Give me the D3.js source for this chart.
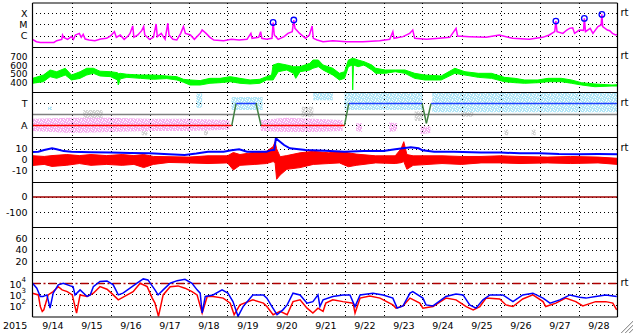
<!DOCTYPE html>
<html>
<head>
<meta charset="utf-8">
<script src="https://cdn.jsdelivr.net/npm/d3@7"></script>
<style>
  body { margin: 0; background: #fff; }
  svg { display: block; font-family: 'DejaVu Sans', 'Liberation Sans', Arial, sans-serif; }
</style>
</head>
<body>
<div id="chart"></div>
<script>
const width = 633
const height = 334
const plotLeft = 32.5
const plotRight = 617.5

// panel edges, top to bottom
const edges = [3, 47.5, 92.5, 137.5, 182.5, 227.5, 272.5, 317]

// time axis in days since 2015-09-14 00:00
const dayStarts = d3.range(0, 15)
const dayLabels = ['9/14', '9/15', '9/16', '9/17', '9/18', '9/19', '9/20', '9/21', '9/22', '9/23', '9/24', '9/25', '9/26', '9/27', '9/28']

// x-ray flux [day, W/m2]
const xrayFlux = [
  [0, 4.7e-7], [0.1, 2.9e-7], [0.2, 2.5e-7], [0.4, 2.4e-7], [0.55, 2.5e-7], [0.62, 3.6e-7], [0.75, 4.7e-7], [0.77, 1.15e-6],
  [0.8, 7.1e-7], [0.9, 4.7e-7], [1.0, 8.2e-7], [1.05, 4.7e-7], [1.1, 1.15e-6], [1.2, 1.6e-6], [1.25, 7.1e-7], [1.3, 1.3e-6],
  [1.35, 5.0e-7], [1.45, 4.1e-7], [1.6, 3.6e-7], [1.75, 5.0e-7], [1.9, 5.8e-7], [2.0, 9.4e-7], [2.1, 2.3e-6], [2.15, 7.1e-7],
  [2.25, 1.15e-6], [2.35, 4.7e-7], [2.45, 9.4e-7], [2.5, 1.6e-6], [2.57, 7.4e-6], [2.6, 7.1e-7], [2.7, 1.15e-6], [2.8, 2.8e-6],
  [2.85, 6.4e-6], [2.88, 1.15e-6], [3.0, 4.7e-7], [3.1, 7.1e-7], [3.17, 1.1e-5], [3.2, 8.2e-7], [3.3, 1.6e-6], [3.4, 4.7e-7],
  [3.47, 1.3e-5], [3.5, 1.15e-6], [3.6, 4.7e-7], [3.7, 4.1e-7], [3.8, 1.6e-6], [3.87, 6.4e-6], [3.92, 1.6e-6], [4.05, 1.15e-6],
  [4.15, 4.7e-7], [4.3, 1.6e-6], [4.35, 3.2e-6], [4.45, 1.6e-6], [4.55, 7.1e-7], [4.65, 4.1e-7], [4.9, 3.6e-7], [5.1, 4.7e-7],
  [5.3, 4.1e-7], [5.5, 4.7e-7], [5.6, 1.6e-6], [5.63, 5.8e-7], [5.8, 7.1e-7], [5.85, 2.3e-6], [5.88, 5.8e-7], [6.0, 4.7e-7],
  [6.14, 5.8e-7], [6.17, 1.45e-5], [6.2, 1.15e-6], [6.3, 4.7e-7], [6.45, 8.2e-7], [6.55, 1.6e-6], [6.66, 2.3e-6], [6.7, 2.5e-5],
  [6.73, 4.5e-6], [6.85, 1.6e-6], [7.0, 5.8e-7], [7.1, 1.15e-6], [7.17, 7.4e-6], [7.2, 5.8e-7], [7.3, 4.1e-7], [7.45, 2.9e-7],
  [7.7, 3.6e-7], [8.05, 2.9e-7], [8.47, 2.9e-7], [8.9, 3.6e-7], [9.16, 4.7e-7], [9.24, 2.3e-6], [9.27, 5.8e-7], [9.5, 8.2e-7],
  [9.67, 1.6e-6], [9.75, 3.2e-6], [9.8, 5.8e-7], [10.1, 4.7e-7], [10.43, 5.8e-7], [10.7, 7.1e-7], [10.86, 4.5e-6], [10.9, 9.4e-7],
  [11.2, 8.2e-7], [11.63, 7.1e-7], [11.97, 1.15e-6], [12.31, 5.8e-7], [12.74, 4.7e-7], [13.08, 7.1e-7], [13.25, 1.15e-6], [13.39, 2.3e-6],
  [13.42, 2.0e-5], [13.45, 2.3e-6], [13.6, 1.6e-6], [13.7, 3.2e-6], [13.77, 4.5e-6], [13.85, 5.0e-6], [13.9, 1.6e-6], [14.02, 3.2e-6],
  [14.13, 3.0e-6], [14.15, 3.5e-5], [14.18, 2.3e-6], [14.3, 4.5e-6], [14.37, 1.6e-6], [14.5, 6.4e-6], [14.58, 9.0e-6], [14.6, 8.0e-5],
  [14.62, 6.4e-6], [14.74, 3.2e-6], [14.8, 2.8e-6], [14.87, 1.6e-6], [14.95, 1.15e-6], [15, 1.3e-6]
]
const flarePeaks = [[6.17, 1.5e-5], [6.7, 2.5e-5], [13.42, 2.0e-5], [14.15, 3.5e-5], [14.6, 8.0e-5]]

// solar wind speed band [day, low, high] km/s
const windSpeed = [
  [0, 388, 446], [0.28, 407, 485], [0.45, 466, 544], [0.62, 446, 524], [0.84, 485, 564], [1.0, 427, 485], [1.22, 446, 524],
  [1.39, 485, 564], [1.56, 505, 564], [1.73, 474, 530], [2.0, 466, 524], [2.18, 427, 513], [2.2, 368, 500], [2.25, 440, 505],
  [2.42, 458, 494], [2.77, 446, 485], [3.1, 435, 485], [3.44, 443, 474], [3.7, 427, 466], [3.87, 400, 435], [4.04, 368, 427],
  [4.3, 368, 420], [4.55, 388, 446], [4.81, 395, 446], [5.07, 407, 466], [5.32, 388, 446], [5.58, 380, 427], [5.83, 388, 435],
  [6.0, 427, 466], [6.13, 427, 485], [6.17, 427, 603], [6.3, 524, 622], [6.52, 544, 603], [6.69, 505, 583], [6.75, 446, 583],
  [6.86, 524, 583], [7.11, 544, 622], [7.19, 564, 661], [7.33, 583, 661], [7.45, 544, 603], [7.7, 485, 564], [7.87, 427, 505],
  [8.0, 446, 524], [8.1, 583, 661], [8.2, 603, 680], [8.21, 310, 680], [8.23, 603, 680], [8.35, 583, 661], [8.5, 603, 642],
  [8.7, 544, 603], [8.8, 505, 564], [9.05, 505, 544], [9.3, 524, 544], [9.55, 505, 544], [9.8, 446, 505], [10.06, 427, 485],
  [10.48, 427, 474], [10.83, 505, 564], [11.09, 485, 524], [11.43, 458, 505], [11.77, 446, 505], [12.1, 407, 458], [12.37, 395, 446],
  [12.62, 388, 427], [12.96, 395, 427], [13.22, 407, 446], [13.56, 407, 446], [13.82, 388, 427], [14.08, 368, 395], [14.42, 348, 380],
  [14.86, 356, 368], [15, 356, 372]
]

// IMF direction scatter bands [day, low, high] (A = -1, T = +1), null = gap
const phiAway = [
  [0, -1.5, -0.4], [1, -1.7, -0.3], [2, -1.6, -0.3], [3, -1.5, -0.4], [4, -1.5, -0.4], [5.05, -1.4, -0.5], [5.06, null, null],
  [5.85, -1.5, -0.5], [6.5, -1.6, -0.3], [7.2, -1.6, -0.4], [7.95, -1.5, -0.5], [7.96, null, null],
  [8.3, -1.5, -0.8], [8.45, -1.6, -0.8], [8.46, null, null], [9.15, -1.6, -0.7], [9.35, -1.5, -0.8], [9.36, null, null],
  [9.95, -1.8, -1.1], [10.2, -1.7, -1.1]
]
const phiToward = [
  [0.4, 0.4, 0.7], [0.5, 0.4, 0.7], [0.51, null, null], [4.2, 0.6, 1.9], [4.35, 0.6, 1.9], [4.36, null, null],
  [5.1, 0.4, 1.6], [5.9, 0.4, 1.6], [5.91, null, null], [7.2, 1.3, 2.0], [7.7, 1.3, 2.0], [7.71, null, null],
  [8.0, 0.4, 2.0], [10.0, 0.4, 2.0], [10.01, null, null], [10.25, 0.2, 2.0], [15, 0.2, 2.0]
]
const phiOther = [
  [1.3, -0.8, 0.4], [1.8, -0.8, 0.4], [1.81, null, null], [2.8, -1.9, -1.4], [2.95, -1.9, -1.4], [2.96, null, null],
  [4.4, -1.9, -1.4], [4.5, -1.9, -1.4], [4.51, null, null], [6.9, -0.2, 0.7], [7.2, -0.2, 0.7], [7.21, null, null],
  [9.8, -0.6, 0.3], [10.0, -0.6, 0.3], [10.01, null, null], [11.0, -0.2, 0.4], [11.3, -0.2, 0.4], [11.31, null, null],
  [12.1, -1.9, -1.4], [12.2, -1.9, -1.4], [12.21, null, null], [12.8, -1.9, -1.4], [12.9, -1.9, -1.4]
]
// sector polarity
const sector = [[0, -1], [5.11, -1], [5.22, 1], [5.73, 1], [5.86, -1], [8.0, -1], [8.11, 1], [9.99, 1], [10.1, -0.82], [10.22, 1], [15, 1]]

// IMF magnitude (nT)
const imfBt = [
  [0, 7.0], [0.15, 7.3], [0.3, 8.9], [0.5, 10.4], [0.62, 9.5], [0.8, 7.8], [1.0, 7.3], [1.5, 6.8], [2.0, 6.4], [2.5, 6.0],
  [3.0, 5.8], [3.5, 4.8], [3.9, 4.2], [4.2, 5.5], [4.5, 7.3], [4.9, 7.3], [5.1, 8.5], [5.3, 9.5], [5.5, 7.3], [6.0, 7.3],
  [6.1, 8.5], [6.2, 9.0], [6.24, 19.8], [6.3, 18.0], [6.45, 13.5], [6.6, 10.4], [7.0, 8.9], [7.5, 8.2], [8.0, 7.3], [8.5, 7.8],
  [9.0, 7.8], [9.3, 9.5], [9.5, 10.4], [9.7, 11.4], [9.9, 10.4], [10.0, 8.5], [10.3, 7.3], [10.8, 7.3], [11.5, 6.4], [12, 6.4],
  [12.5, 5.8], [13, 5.8], [13.5, 5.0], [14, 4.8], [14.5, 5.0], [15, 4.8]
]
// IMF Bz band [day, low, high] (nT)
const imfBz = [
  [0, -5.6, 3.5], [0.3, -4.6, 2.8], [0.5, -6.5, 3.6], [0.88, -5.4, 4.6], [1.2, -3.8, 3.6], [1.5, -5.5, 4.6], [1.9, -4.6, 3.6],
  [2.3, -5.5, 4.6], [2.6, -4.6, 3.6], [2.85, -7.6, 4.6], [3.1, -4.6, 2.8], [3.5, -2.8, 2.6], [4.0, -3.2, 2.2], [4.5, -3.8, 3.4],
  [5.0, -3.2, 3.4], [5.15, -9.8, 6.5], [5.32, -5.5, 4.6], [5.7, -4.6, 6.8], [6.0, -3.8, 7.6], [6.17, -2.0, 12.0], [6.22, -3.0, 16.6],
  [6.26, -18.5, 10.0], [6.35, -14.5, 2.6], [6.52, -9.2, 3.6], [6.86, -7.6, 6.2], [7.2, -4.6, 7.6], [7.6, -3.8, 6.2], [7.87, -3.2, 7.6],
  [8.1, -6.8, 6.2], [8.3, -5.5, 5.0], [8.8, -3.2, 3.4], [9.3, -3.8, 3.4], [9.45, -3.0, 10.0], [9.52, -2.0, 16.6], [9.6, -9.2, 4.6],
  [9.76, -5.5, 3.4], [10.5, -3.8, 3.4], [11.0, -4.6, 2.8], [11.5, -3.2, 2.8], [12.0, -3.2, 3.4], [12.5, -3.8, 2.8], [13.2, -3.2, 2.2],
  [13.8, -3.8, 2.8], [14.5, -3.2, 2.2], [15, -4.6, 1.1]
]

// electron flux
const electronBlue = [
  [0, 10500], [0.11, 3700], [0.2, 650], [0.27, 650], [0.37, 900], [0.45, 56], [0.53, 1300], [0.66, 7400], [0.79, 10500],
  [0.97, 6000], [1.04, 5100], [1.09, 900], [1.22, 2600], [1.4, 650], [1.48, 900], [1.56, 5100], [1.73, 15000], [1.91, 17000],
  [2.07, 7400], [2.2, 900], [2.32, 1300], [2.5, 3700], [2.68, 10500], [2.84, 26000], [2.96, 21000], [3.14, 2600], [3.22, 900],
  [3.35, 2600], [3.53, 10500], [3.71, 18000], [3.91, 24000], [4.09, 10500], [4.22, 2600], [4.3, 1300], [4.35, 20], [4.43, 650],
  [4.63, 900], [4.86, 2600], [5.01, 1300], [5.14, 220], [5.27, 10], [5.4, 78], [5.65, 900], [5.92, 900], [6.01, 460], [6.14, 78],
  [6.27, 14], [6.42, 39], [6.53, 110], [6.68, 1300], [6.86, 900], [7.04, 160], [7.19, 220], [7.32, 900], [7.37, 78], [7.45, 320],
  [7.7, 650], [7.96, 900], [8.14, 900], [8.27, 78], [8.4, 900], [8.73, 1300], [8.99, 900], [9.24, 460], [9.35, 56], [9.5, 90],
  [9.68, 1300], [9.75, 1800], [10.01, 460], [10.09, 110], [10.27, 90], [10.6, 650], [10.86, 1100], [11.04, 900], [11.21, 110],
  [11.37, 56], [11.55, 320], [11.73, 900], [12.06, 900], [12.32, 220], [12.57, 900], [12.83, 1300], [13.09, 460], [13.27, 160],
  [13.52, 320], [13.78, 900], [14.03, 560], [14.19, 460], [14.44, 650], [14.7, 900], [14.98, 650]
]
const electronRed = [
  [0, 1300], [0.15, 900], [0.2, 78], [0.25, 28], [0.29, 39], [0.4, 900], [0.53, 1800], [0.66, 5100], [0.76, 2600], [0.89, 1800],
  [1.02, 900], [1.09, 78], [1.13, 20], [1.22, 900], [1.4, 650], [1.56, 1300], [1.73, 5100], [1.91, 3000], [2.07, 900], [2.2, 320],
  [2.43, 900], [2.58, 1800], [2.76, 10500], [2.94, 5100], [3.07, 460], [3.14, 160], [3.23, 10], [3.35, 900], [3.53, 5100],
  [3.73, 6000], [3.91, 3700], [4.09, 1800], [4.22, 900], [4.35, 20], [4.48, 650], [4.63, 650], [4.89, 460], [5.07, 160], [5.17, 14],
  [5.32, 110], [5.65, 320], [5.92, 160], [6.01, 78], [6.17, 14], [6.35, 28], [6.53, 14], [6.68, 220], [6.86, 320], [7.04, 56],
  [7.19, 20], [7.32, 56], [7.45, 28], [7.52, 160], [7.7, 320], [7.96, 220], [8.22, 160], [8.27, 20], [8.4, 460], [8.65, 700],
  [8.91, 460], [9.24, 110], [9.32, 56], [9.5, 90], [9.68, 460], [9.93, 160], [10.01, 56], [10.27, 78], [10.6, 460], [10.86, 320],
  [11.12, 78], [11.3, 39], [11.47, 78], [11.63, 460], [11.98, 380], [12.14, 110], [12.32, 78], [12.57, 380], [12.83, 900],
  [13.09, 220], [13.16, 78], [13.42, 160], [13.67, 460], [13.93, 220], [14.11, 90], [14.44, 220], [14.7, 220], [14.88, 160], [14.98, 39]
]

// tick labels
const xrayTicks = [['C', 1e-6], ['M', 1e-5], ['X', 1e-4]]
const speedTicks = [400, 500, 600, 700]
const phiTicks = [['A', -1], ['T', 1]]
const bTicks = [-10, 0, 10]
const dstTicks = [-100, 0]
const p6Ticks = [20, 40, 60]
const elecTicks = [2, 3, 4]

// scales
const x = d3.scaleLinear().domain([0, 15]).range([plotLeft, plotRight])
const yXray = d3.scaleLog().domain([8.8e-8, 8.3e-4]).range([edges[1], edges[0]])
const ySpeed = d3.scaleLinear().domain([280, 808]).range([edges[2], edges[1]])
const yPhi = d3.scaleLinear().domain([-2.1, 2]).range([edges[3], edges[2]])
const yB = d3.scaleLinear().domain([-21.5, 20.5]).range([edges[4], edges[3]])
const yDst = d3.scaleLinear().domain([-200, 95]).range([edges[5], edges[4]])
const yP6 = d3.scaleLinear().domain([0, 79]).range([edges[6], edges[5]])
const yElec = d3.scaleLog().domain([8.7, 1e5]).range([edges[7], edges[6]])

const svg = d3.select('#chart').append('svg')
  .attr('width', width)
  .attr('height', height)

svg.append('rect').attr('width', width).attr('height', height).attr('fill', '#fff')

const defs = svg.append('defs')
edges.slice(0, -1).forEach((top, i) => {
  defs.append('clipPath').attr('id', 'clip' + i)
    .append('rect')
    .attr('x', plotLeft).attr('y', top)
    .attr('width', plotRight - plotLeft).attr('height', edges[i + 1] - top)
})

// speckled fills to look like scattered dots: colour with a few white holes
function speckle(id, color) {
  const p = defs.append('pattern')
    .attr('id', id)
    .attr('patternUnits', 'userSpaceOnUse')
    .attr('width', 7).attr('height', 5)
  p.append('rect').attr('width', 7).attr('height', 5).attr('fill', color)
  const holes = [[1, 0], [4, 0], [3, 1], [6, 1], [0, 2], [5, 2], [2, 3], [4, 4], [0, 4]]
  holes.forEach(d => {
    p.append('rect').attr('x', d[0]).attr('y', d[1]).attr('width', 1).attr('height', 1).attr('fill', '#fff')
  })
}
speckle('pinkDots', '#f6b2f0')
speckle('blueDots', '#b2e6f7')
speckle('grayDots', '#d4d4d4')

function panel(i) {
  return svg.append('g').attr('clip-path', `url(#clip${i})`)
}

// dotted grid
const grid = svg.append('g')
  .attr('stroke', '#000')
  .attr('stroke-dasharray', '1,3')
  .attr('shape-rendering', 'crispEdges')

dayStarts.slice(1).forEach(d => {
  grid.append('line')
    .attr('x1', Math.round(x(d)) + 0.5).attr('x2', Math.round(x(d)) + 0.5)
    .attr('y1', edges[0]).attr('y2', edges[7])
})

function hgrid(y) {
  const yy = Math.round(y) + 0.5
  grid.append('line').attr('x1', plotLeft + 3).attr('x2', plotRight).attr('y1', yy).attr('y2', yy)
}

// panel 3 scatter goes under the grid
const p3 = svg.append('g').attr('clip-path', 'url(#clip2)')
const band = sc => d3.area()
  .defined(d => d[1] !== null)
  .x(d => x(d[0])).y0(d => sc(d[1])).y1(d => sc(d[2]))
p3.append('path').datum(phiOther).attr('fill', 'url(#grayDots)').attr('d', band(yPhi))
p3.append('path').datum(phiAway).attr('fill', 'url(#pinkDots)').attr('d', band(yPhi))
p3.append('path').datum(phiToward).attr('fill', 'url(#blueDots)').attr('d', band(yPhi))
grid.raise()

xrayTicks.forEach(d => hgrid(yXray(d[1])))
speedTicks.forEach(d => hgrid(ySpeed(d)))
phiTicks.forEach(d => hgrid(yPhi(d[1])))
bTicks.forEach(d => hgrid(yB(d)))
dstTicks.forEach(d => hgrid(yDst(d)))
p6Ticks.forEach(d => hgrid(yP6(d)))
elecTicks.forEach(d => hgrid(yElec(Math.pow(10, d))))

// panel 1: x-ray
const p1 = panel(0)
p1.append('path')
  .datum(xrayFlux)
  .attr('fill', 'none')
  .attr('stroke', '#ff00ff')
  .attr('stroke-width', 1.5)
  .attr('d', d3.line().x(d => x(d[0])).y(d => yXray(d[1])))
p1.selectAll('.peak')
  .data(flarePeaks)
  .enter()
  .append('circle')
  .attr('cx', d => x(d[0]))
  .attr('cy', d => yXray(d[1]))
  .attr('r', 2.8)
  .attr('fill', 'none')
  .attr('stroke', '#0000ff')
  .attr('stroke-width', 1.3)

// panel 2: solar wind speed
const p2 = panel(1)
p2.append('path')
  .datum(windSpeed)
  .attr('fill', '#00ff00')
  .attr('stroke', '#00ff00')
  .attr('stroke-width', 1)
  .attr('d', d3.area().x(d => x(d[0])).y0(d => ySpeed(d[1])).y1(d => ySpeed(d[2])))

// panel 3: sector lines
const p3l = panel(2)
p3l.append('line')
  .attr('x1', plotLeft).attr('x2', plotRight)
  .attr('y1', yPhi(0)).attr('y2', yPhi(0))
  .attr('stroke', '#808080').attr('stroke-width', 1.5)
d3.pairs(sector).forEach(([a, b]) => {
  let color = '#408040'
  if (a[1] === -1 && b[1] === -1) color = '#ff0000'
  if (a[1] === 1 && b[1] === 1) color = '#2040ff'
  p3l.append('line')
    .attr('x1', x(a[0])).attr('y1', yPhi(a[1]))
    .attr('x2', x(b[0])).attr('y2', yPhi(b[1]))
    .attr('stroke', color).attr('stroke-width', 1.5)
})

// panel 4: IMF
const p4 = panel(3)
p4.append('line')
  .attr('x1', plotLeft).attr('x2', plotRight)
  .attr('y1', yB(0)).attr('y2', yB(0))
  .attr('stroke', '#c00000').attr('stroke-width', 1)
p4.append('path')
  .datum(imfBz)
  .attr('fill', '#ff0000')
  .attr('stroke', '#ff0000')
  .attr('stroke-width', 1)
  .attr('d', d3.area().x(d => x(d[0])).y0(d => yB(d[1])).y1(d => yB(d[2])))
p4.append('path')
  .datum(imfBt)
  .attr('fill', 'none')
  .attr('stroke', '#0000ff')
  .attr('stroke-width', 2)
  .attr('d', d3.line().x(d => x(d[0])).y(d => yB(d[1])))

// panel 5: Dst
const p5 = panel(4)
p5.append('line')
  .attr('x1', plotLeft).attr('x2', plotRight)
  .attr('y1', yDst(0)).attr('y2', yDst(0))
  .attr('stroke', '#a00000').attr('stroke-width', 1.5)

// panel 7: electrons
const p7 = panel(6)
p7.append('line')
  .attr('x1', plotLeft).attr('x2', plotRight)
  .attr('y1', yElec(1e4)).attr('y2', yElec(1e4))
  .attr('stroke', '#b00000').attr('stroke-width', 1.5)
  .attr('stroke-dasharray', '8,3,2,3')
p7.append('path')
  .datum(electronRed)
  .attr('fill', 'none')
  .attr('stroke', '#ff0000')
  .attr('stroke-width', 1.5)
  .attr('d', d3.line().x(d => x(d[0])).y(d => yElec(d[1])))
p7.append('path')
  .datum(electronBlue)
  .attr('fill', 'none')
  .attr('stroke', '#0000ff')
  .attr('stroke-width', 1.5)
  .attr('d', d3.line().x(d => x(d[0])).y(d => yElec(d[1])))

// frame
const frame = svg.append('g').attr('stroke', '#000').attr('stroke-width', 1.2)
edges.forEach(e => {
  frame.append('line').attr('x1', plotLeft).attr('x2', plotRight).attr('y1', e).attr('y2', e)
})
frame.append('line').attr('x1', plotLeft).attr('x2', plotLeft).attr('y1', edges[0]).attr('y2', edges[7])
frame.append('line').attr('x1', plotRight).attr('x2', plotRight).attr('y1', edges[0]).attr('y2', edges[7])

// labels
const labels = svg.append('g').attr('font-size', 9.5).attr('fill', '#000')
function leftLabel(y, text, size) {
  labels.append('text').attr('x', 27.5).attr('y', y + 3.5).attr('text-anchor', 'end')
    .attr('font-size', size || 9.5).text(text)
}
xrayTicks.forEach(d => leftLabel(yXray(d[1]), d[0]))
speedTicks.forEach(d => leftLabel(ySpeed(d), d, 9))
phiTicks.forEach(d => leftLabel(yPhi(d[1]), d[0]))
bTicks.forEach(d => leftLabel(yB(d), d))
dstTicks.forEach(d => leftLabel(yDst(d), d))
p6Ticks.forEach(d => leftLabel(yP6(d), d))
elecTicks.forEach(d => {
  const t = labels.append('text')
    .attr('x', 26).attr('y', yElec(Math.pow(10, d)) + 4.5)
    .attr('text-anchor', 'end')
  t.append('tspan').text('10')
  t.append('tspan').attr('dy', -5.5).attr('font-size', 7).text(d)
})

// rt markers
const rtMarks = [yXray(1e-4), ySpeed(700), yPhi(1), yB(10), yElec(1e4)]
rtMarks.forEach(y => {
  labels.append('text').attr('x', 620.5).attr('y', y + 2.5).attr('font-size', 10).text('rt')
})

// x axis
labels.append('text').attr('x', 3).attr('y', 329).text('2015')
dayStarts.forEach((d, i) => {
  labels.append('text')
    .attr('x', x(d + 0.5) + 1).attr('y', 329)
    .attr('text-anchor', 'middle')
    .text(dayLabels[i])
})

// resize grip
const grip = svg.append('g').attr('stroke-width', 1)
;[0, 4, 8].forEach(o => {
  grip.append('line').attr('x1', 633).attr('y1', 321 + o).attr('x2', 621 + o).attr('y2', 333).attr('stroke', '#999')
  grip.append('line').attr('x1', 633).attr('y1', 322 + o).attr('x2', 622 + o).attr('y2', 333).attr('stroke', '#ddd')
})
</script>
</body>
</html>
